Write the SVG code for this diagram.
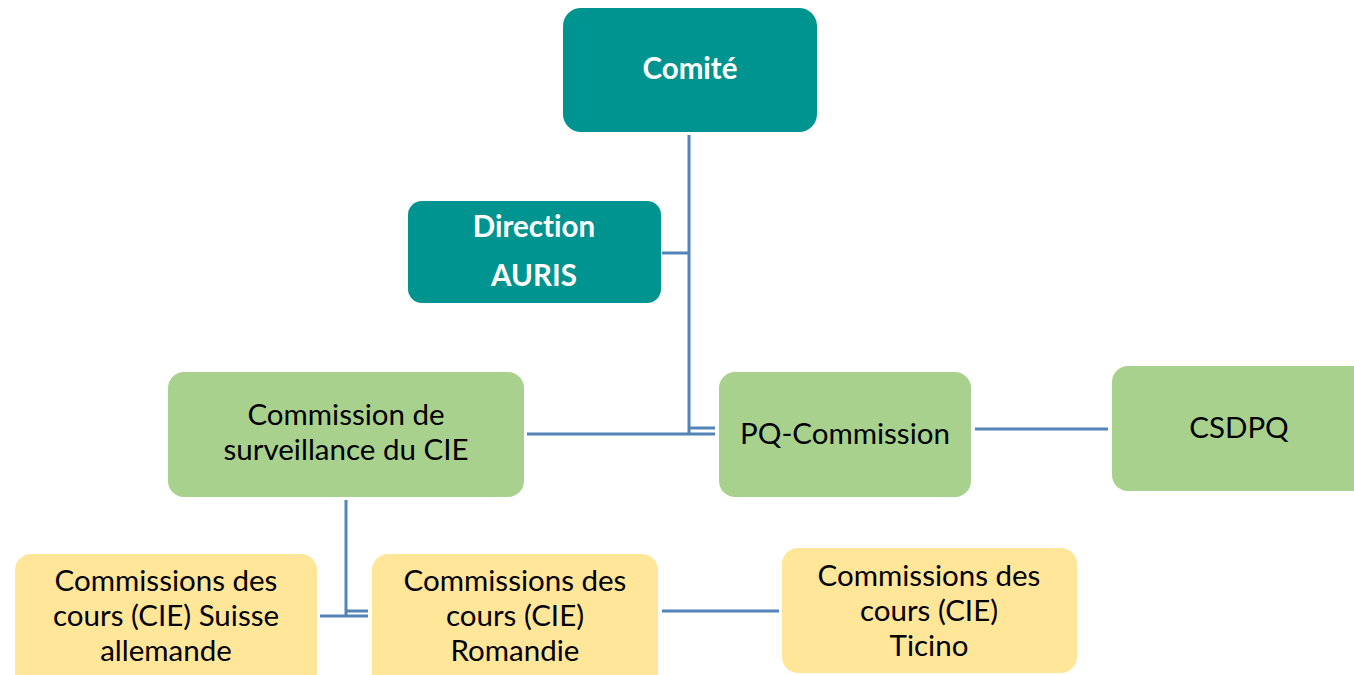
<svg xmlns="http://www.w3.org/2000/svg" width="1354" height="675" viewBox="0 0 1354 675">
<style>
.teal{fill:#009490}
.green{fill:#a9d18e}
.yellow{fill:#ffe699}
text{font-family:Lato,"Open Sans",sans-serif;font-size:29.5px;text-anchor:middle;fill:#000;font-variant-ligatures:none}
.w{fill:#fff;font-weight:bold}
.c line{stroke:#5383b7;stroke-width:3}
</style>
<rect width="1354" height="675" fill="#fff"/>
<g class="c" id="connectors">
<line x1="689" y1="135" x2="689" y2="435"/>
<line x1="662" y1="253" x2="689" y2="253"/>
<line x1="527" y1="434" x2="715" y2="434"/>
<line x1="689" y1="428" x2="715" y2="428"/>
<line x1="975" y1="429" x2="1108" y2="429"/>
<line x1="346" y1="500" x2="346" y2="617"/>
<line x1="320" y1="616" x2="368" y2="616"/>
<line x1="346" y1="611" x2="368" y2="611"/>
<line x1="662" y1="611" x2="779" y2="611"/>
</g>
<g id="comite"><rect class="teal" x="563" y="8" width="254" height="124" rx="18"/><text class="w" x="690" y="79">Comité</text></g>
<g id="direction"><rect class="teal" x="408" y="201" width="253" height="102" rx="14"/><text class="w" x="534" y="237">Direction</text><text class="w" x="534" y="286">AURIS</text></g>
<g id="surveillance"><rect class="green" x="168" y="372" width="356" height="125" rx="16"/><text x="346" y="425">Commission de</text><text x="346" y="460">surveillance du CIE</text></g>
<g id="pq"><rect class="green" x="719" y="372" width="252" height="125" rx="16"/><text x="845" y="444">PQ-Commission</text></g>
<g id="csdpq"><rect class="green" x="1112" y="366" width="260" height="125" rx="16"/><text x="1239" y="438">CSDPQ</text></g>
<g id="suisse"><rect class="yellow" x="15" y="554" width="302" height="140" rx="16"/><text x="166" y="591">Commissions des</text><text x="166" y="626">cours (CIE) Suisse</text><text x="166" y="661">allemande</text></g>
<g id="romandie"><rect class="yellow" x="372" y="554" width="286" height="140" rx="16"/><text x="515" y="591">Commissions des</text><text x="515" y="626">cours (CIE)</text><text x="515" y="661">Romandie</text></g>
<g id="ticino"><rect class="yellow" x="782" y="548" width="295" height="125" rx="16"/><text x="929" y="586">Commissions des</text><text x="929" y="621">cours (CIE)</text><text x="929" y="656">Ticino</text></g>
</svg>
